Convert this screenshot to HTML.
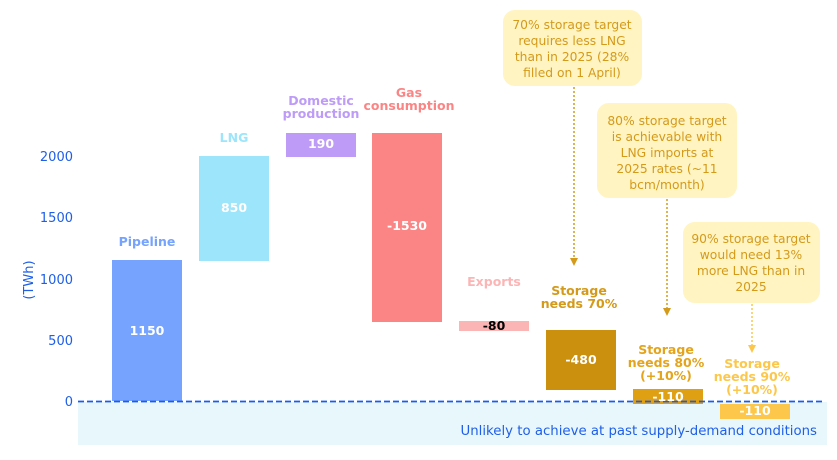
<!DOCTYPE html>
<html><head><meta charset="utf-8"><style>
body{margin:0;background:#fff;width:837px;height:455px;overflow:hidden}
svg{font-family:"DejaVu Sans","Liberation Sans",sans-serif}
</style></head><body>
<svg width="837" height="455" viewBox="0 0 837 455">
<rect x="78" y="402" width="749" height="43" fill="#e8f7fb"/>
<g fill="#1f5fe8" font-size="13" text-anchor="end">
<text x="73" y="161">2000</text><text x="73" y="222">1500</text><text x="73" y="284">1000</text><text x="73" y="345">500</text><text x="73" y="406">0</text>
</g>
<text transform="translate(33,280) rotate(-90)" fill="#1f5fe8" font-size="13" text-anchor="middle">(TWh)</text>
<rect x="112" y="260" width="70" height="141" fill="#75a3fd"/>
<rect x="199" y="156" width="70" height="105" fill="#9ce5fb"/>
<rect x="286" y="133" width="70" height="24" fill="#bd9bf7"/>
<rect x="372" y="133" width="70" height="189" fill="#fb8585"/>
<rect x="459" y="321" width="70" height="10" fill="#fcb5b5"/>
<rect x="546" y="330" width="70" height="60" fill="#cb900e"/>
<rect x="633" y="389" width="70" height="15" fill="#e0a014"/>
<rect x="720" y="404" width="70" height="15" fill="#fcc74a"/>
<line x1="78" y1="401.5" x2="823" y2="401.5" stroke="#1a5cf0" stroke-width="1.8" stroke-dasharray="6,3"/>
<g font-size="12.5" font-weight="bold" text-anchor="middle" fill="#fff">
<text x="147" y="335">1150</text><text x="234" y="212">850</text><text x="321" y="148">190</text><text x="407" y="230">-1530</text>
<text x="494" y="330" fill="#000">-80</text><text x="581" y="364">-480</text><text x="668" y="401">-110</text><text x="755" y="415">-110</text>
</g>
<g font-size="12.5" font-weight="bold" text-anchor="middle">
<text x="147" y="246" fill="#75a3fd">Pipeline</text>
<text x="234" y="142" fill="#9ce5fb">LNG</text>
<text x="321" y="105" fill="#bd9bf7">Domestic</text><text x="321" y="118" fill="#bd9bf7">production</text>
<text x="409" y="97" fill="#fb8585">Gas</text><text x="409" y="110" fill="#fb8585">consumption</text>
<text x="494" y="286" fill="#fcb5b5">Exports</text>
<text x="579" y="295" fill="#d49a1a">Storage</text><text x="579" y="308" fill="#d49a1a">needs 70%</text>
<text x="666" y="354" fill="#e4a41c">Storage</text><text x="666" y="367" fill="#e4a41c">needs 80%</text><text x="666" y="380" fill="#e4a41c">(+10%)</text>
<text x="752" y="368" fill="#fcc74a">Storage</text><text x="752" y="381" fill="#fcc74a">needs 90%</text><text x="752" y="394" fill="#fcc74a">(+10%)</text>
</g>
<g fill="#fff4c2">
<rect x="503" y="10" width="139" height="76" rx="12"/>
<rect x="597" y="103" width="140" height="95" rx="12"/>
<rect x="683" y="222" width="137" height="81" rx="12"/>
</g>
<g font-size="12.3" text-anchor="middle" fill="#d49a1a">
<text x="572" y="29">70% storage target</text><text x="572" y="45">requires less LNG</text><text x="572" y="61">than in 2025 (28%</text><text x="572" y="77">filled on 1 April)</text>
<text x="667" y="125">80% storage target</text><text x="667" y="141">is achievable with</text><text x="667" y="157">LNG imports at</text><text x="667" y="173">2025 rates (~11</text><text x="667" y="189">bcm/month)</text>
<text x="751" y="243">90% storage target</text><text x="751" y="259">would need 13%</text><text x="751" y="275">more LNG than in</text><text x="751" y="291">2025</text>
</g>
<g stroke-width="1.5" stroke-dasharray="2,2">
<line x1="574" y1="87" x2="574" y2="258" stroke="#d49a1a"/>
<line x1="667" y1="199" x2="667" y2="308" stroke="#d49a1a"/>
<line x1="752" y1="304" x2="752" y2="345" stroke="#fcc74a"/>
</g>
<polygon points="570,258 578,258 574,266" fill="#d49a1a"/>
<polygon points="663,308 671,308 667,316" fill="#d49a1a"/>
<polygon points="748,345 756,345 752,353" fill="#fcc74a"/>
<text x="817" y="435" font-size="13.3" fill="#1f5fe8" text-anchor="end">Unlikely to achieve at past supply-demand conditions</text>
</svg>
</body></html>
